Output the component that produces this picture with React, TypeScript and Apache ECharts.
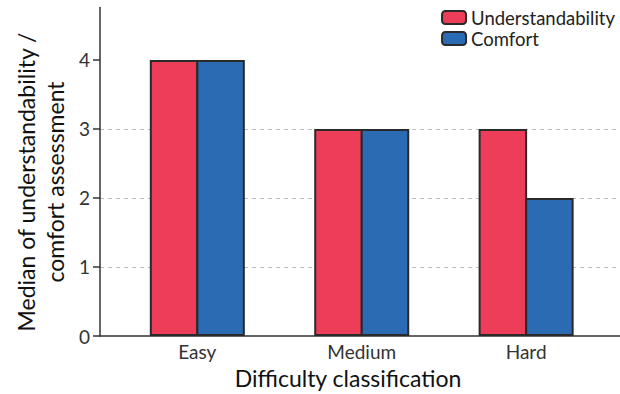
import React, { useEffect, useRef } from "react";
import * as echarts from "echarts";

const categories = ["Easy", "Medium", "Hard"];
const understandability = [4, 3, 3];
const comfort = [4, 3, 2];
const yTicks = [0, 1, 2, 3, 4];
const seriesNames = ["Understandability", "Comfort"];

const FONT = "Lato, 'Noto Sans', sans-serif";

export default function App() {
  const ref = useRef<HTMLDivElement>(null);
  useEffect(() => {
    if (!ref.current) return;
    const chart = echarts.init(ref.current, null, { renderer: "svg" });
    const idx = categories.map((_, i) => i);
    chart.setOption({
      animation: false,
      textStyle: { fontFamily: FONT },
      grid: { left: 100, right: 0, top: 7.5, bottom: 58 },
      legend: {
        orient: "vertical",
        right: 0,
        top: 3,
        itemWidth: 24,
        itemHeight: 13,
        itemGap: 2,
        textStyle: { fontSize: 18.5, lineHeight: 18, color: "#222", fontFamily: FONT },
        data: seriesNames,
      },
      xAxis: {
        type: "value",
        min: -0.592,
        max: 2.571,
        axisLine: { show: true, onZero: false, lineStyle: { color: "#333", width: 1.5 } },
        axisTick: { show: false },
        splitLine: { show: false },
        axisLabel: {
          customValues: idx,
          formatter: (v: number) => categories[Math.round(v)] ?? "",
          fontSize: 19,
          color: "#333",
          margin: 6,
          fontFamily: FONT,
        },
      },
      yAxis: {
        type: "value",
        min: 0,
        max: 4.76,
        interval: 1,
        axisLine: { show: true, onZero: false, lineStyle: { color: "#333", width: 1.5 } },
        axisTick: { show: true, length: 7, customValues: yTicks, lineStyle: { color: "#333", width: 1.5 } },
        axisLabel: { customValues: yTicks, fontSize: 19, color: "#333", margin: 10, fontFamily: FONT },
        splitLine: {
          show: true,
          showMinLine: false,
          showMaxLine: false,
          lineStyle: { color: "#bdbdbd", type: [4, 4], width: 1 },
        },
      },
      series: [
        {
          name: seriesNames[0],
          type: "bar",
          data: understandability.map((v, i) => [idx[i], v]),
          barWidth: 48.5,
          barGap: "-4.1%",
          itemStyle: { color: "#EE3D59", borderColor: "#2a2a2a", borderWidth: 2 },
        },
        {
          name: seriesNames[1],
          type: "bar",
          data: comfort.map((v, i) => [idx[i], v]),
          barWidth: 48.5,
          barGap: "-4.1%",
          itemStyle: { color: "#2A6BB3", borderColor: "#2a2a2a", borderWidth: 2 },
        },
      ],
      graphic: [
        {
          type: "text",
          x: 40,
          y: 182,
          rotation: Math.PI / 2,
          style: {
            text: "Median of understandability /\ncomfort assessment",
            fontSize: 23,
            lineHeight: 29,
            fontFamily: FONT,
            fill: "#111",
            align: "center",
            verticalAlign: "middle",
          },
        },
        {
          type: "text",
          x: 348,
          y: 378,
          style: {
            text: "Difficulty classification",
            fontSize: 23,
            fontFamily: FONT,
            fill: "#111",
            align: "center",
            verticalAlign: "middle",
          },
        },
      ],
    });
    return () => chart.dispose();
  }, []);
  return <div ref={ref} style={{ width: 620, height: 394, position: "absolute", left: 0, top: 0 }} />;
}
